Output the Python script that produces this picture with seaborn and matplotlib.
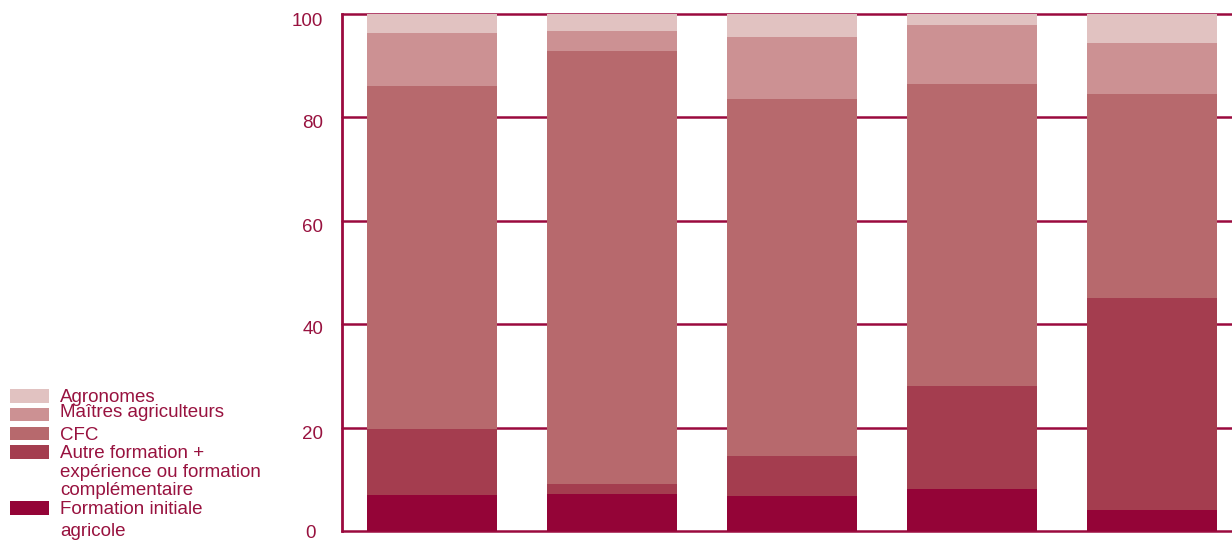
import matplotlib
matplotlib.use("Agg")
import matplotlib.pyplot as plt
import matplotlib.transforms as mtransforms
from matplotlib.patches import Rectangle
import numpy as np
import pandas as pd
import seaborn as sns

# Share (%) of each training path, one value per group (bottom layer first)
groups = ["G1", "G2", "G3", "G4", "G5"]
formation_initiale = [7.0, 7.2, 6.8, 8.1, 4.1]
autre_formation = [12.7, 1.9, 7.7, 19.9, 41.0]
cfc = [66.4, 83.7, 69.1, 58.5, 39.4]
maitres_agriculteurs = [10.2, 3.9, 12.0, 11.4, 9.9]
agronomes = [3.7, 3.3, 4.4, 2.1, 5.6]

layer_names = [
    "Formation initiale\nagricole",
    "Autre formation +\nexpérience ou formation\ncomplémentaire",
    "CFC",
    "Maîtres agriculteurs",
    "Agronomes",
]
layer_values = [formation_initiale, autre_formation, cfc, maitres_agriculteurs, agronomes]
layer_colors = ["#940437", "#A43D4F", "#B7696D", "#CC9193", "#E1C2C1"]
y_ticks = [0, 20, 40, 60, 80, 100]

TEXT = "#98123F"
LINE = "#9B0A3E"
FS = 13.5

sns.set_theme(style="white")
plt.rcParams["font.family"] = ["Liberation Sans", "DejaVu Sans"]

W, H = 1232, 540
fig = plt.figure(figsize=(W / 100, H / 100), dpi=100)
ax = fig.add_axes([342 / W, (H - 531) / H, 900 / W, 517 / H])

# Cumulative tops, painted from the top layer down so each layer covers the next
cum = np.cumsum(np.array(layer_values), axis=0)
df = pd.DataFrame({"group": groups})
for i in range(len(layer_names) - 1, -1, -1):
    df["top"] = cum[i]
    sns.barplot(data=df, x="group", y="top", color=layer_colors[i],
                saturation=1, width=0.722, ax=ax, zorder=3, edgecolor="none",
                linewidth=0)

ax.set_xlim(-0.5, 4.5)
ax.set_ylim(0, 100)
ax.set_yticks(y_ticks)
for v in y_ticks:
    ax.axhline(v, color=LINE, lw=1.8, zorder=1, clip_on=False)

for side in ["top", "right", "bottom"]:
    ax.spines[side].set_visible(False)
ax.spines["left"].set_color(LINE)
ax.spines["left"].set_linewidth(2)
ax.spines["left"].set_zorder(4)

ax.set_xlabel("")
ax.set_ylabel("")
ax.set_xticks([])
ax.tick_params(axis="y", length=0, pad=13.5, labelsize=FS, labelcolor=TEXT)

# Small per-label nudges (pixels) of the y tick labels
label_nudge = {0: (-7, 0), 20: (0, -4.5), 40: (0, -3), 60: (0, -5),
               80: (0, -4), 100: (0, -6)}
for v, lbl in zip(y_ticks, ax.get_yticklabels()):
    dx, dy = label_nudge[v]
    shift = mtransforms.ScaledTranslation(dx / 100, dy / 100, fig.dpi_scale_trans)
    lbl.set_transform(lbl.get_transform() + shift)

# Legend at the lower left, drawn in pixel coordinates of the figure
def px(x, y):
    return x / W, (H - y) / H

patch_spans = {
    "Agronomes": (389.3, 402.7),
    "Maîtres agriculteurs": (408.0, 421.3),
    "CFC": (426.7, 440.0),
    "Autre formation +\nexpérience ou formation\ncomplémentaire": (445.3, 458.7),
    "Formation initiale\nagricole": (501.3, 514.7),
}
text_lines = [
    ("Agronomes", 401.7),
    ("Maîtres agriculteurs", 417.3),
    ("CFC", 440.0),
    ("Autre formation +", 458.3),
    ("expérience ou formation", 477.3),
    ("complémentaire", 495.0),
    ("Formation initiale", 514.3),
    ("agricole", 535.7),
]
for name, color in zip(layer_names, layer_colors):
    top, bot = patch_spans[name]
    x0, y0 = px(10, bot)
    fig.patches.append(Rectangle((x0, y0), 39 / W, (bot - top) / H,
                                 transform=fig.transFigure, facecolor=color,
                                 edgecolor="none"))
for txt, base in text_lines:
    x, y = px(60, base)
    fig.text(x, y, txt, ha="left", va="baseline", fontsize=FS, color=TEXT)

fig.savefig("out.png", dpi=100)
